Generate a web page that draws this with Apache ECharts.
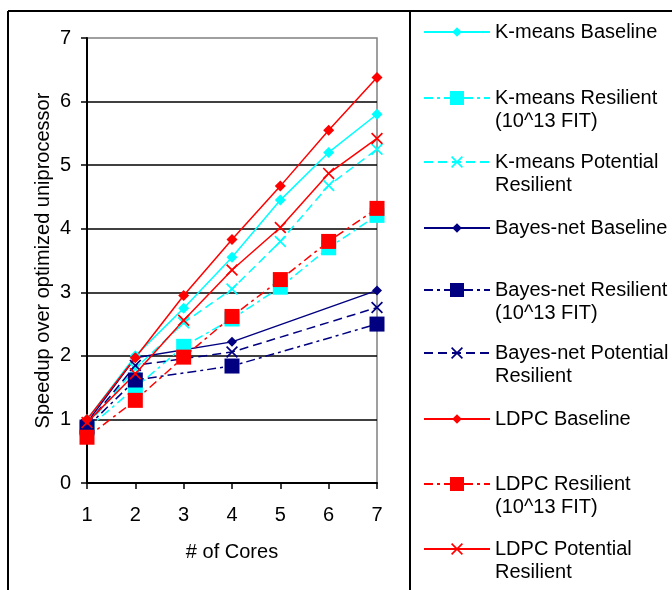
<!DOCTYPE html>
<html>
<head>
<meta charset="utf-8">
<script src="https://cdn.jsdelivr.net/npm/echarts@6/dist/echarts.min.js"></script>
<style>
html,body{margin:0;padding:0;background:#fff;}
#c{width:672px;height:590px;}
</style>
</head>
<body>
<div id="c"></div>
<script>
// ---- data ----
const cores = ['1', '2', '3', '4', '5', '6', '7'];
const yTicks = [0, 1, 2, 3, 4, 5, 6, 7];

const kmBaseline  = [1.00, 2.00, 2.75, 3.55, 4.45, 5.20, 5.80];
const kmResilient = [0.85, 1.50, 2.15, 2.58, 3.08, 3.70, 4.21];
const kmPotential = [0.90, 1.80, 2.52, 3.05, 3.80, 4.68, 5.25];

const bnBaseline  = [0.95, 1.97, null, 2.22, null, null, 3.03];
const bnResilient = [0.88, 1.62, null, 1.84, null, null, 2.50];
const bnPotential = [0.92, 1.85, null, 2.06, null, null, 2.76];

const ldBaseline  = [1.00, 1.97, 2.95, 3.83, 4.67, 5.55, 6.38];
const ldResilient = [0.72, 1.30, 1.98, 2.62, 3.20, 3.80, 4.32];
const ldPotential = [0.95, 1.72, 2.56, 3.35, 4.02, 4.87, 5.42];

const seriesNames = [
  'K-means Baseline', 'K-means Resilient (10^13 FIT)', 'K-means Potential Resilient',
  'Bayes-net Baseline', 'Bayes-net Resilient (10^13 FIT)', 'Bayes-net Potential Resilient',
  'LDPC Baseline', 'LDPC Resilient (10^13 FIT)', 'LDPC Potential Resilient'
];
const legendLabels = [
  'K-means Baseline', 'K-means Resilient\n(10^13 FIT)', 'K-means Potential\nResilient',
  'Bayes-net Baseline', 'Bayes-net Resilient\n(10^13 FIT)', 'Bayes-net Potential\nResilient',
  'LDPC Baseline', 'LDPC Resilient\n(10^13 FIT)', 'LDPC Potential\nResilient'
];
const seriesData = [kmBaseline, kmResilient, kmPotential, bnBaseline, bnResilient, bnPotential, ldBaseline, ldResilient, ldPotential];

// ---- styles ----
const CYAN = '#00FFFF', NAVY = '#000080', RED = '#FF0000';
const FONT = 'Liberation Sans, Arial, sans-serif';
const X_PATH = 'path://M0,1.2L1.2,0L12,10.8L10.8,12ZM10.8,0L12,1.2L1.2,12L0,10.8Z';
const DASH = [9, 5];
const DASHDOT = [9, 4, 3, 4];
const styles = [
  {c: CYAN, sym: 'diamond', size: 11, dash: 'solid', lh: 12},
  {c: CYAN, sym: 'rect', size: 15, dash: DASHDOT, lh: 17.5},
  {c: CYAN, sym: X_PATH, size: 12, dash: DASH, lh: 15},
  {c: NAVY, sym: 'diamond', size: 10, dash: 'solid', lh: 12},
  {c: NAVY, sym: 'rect', size: 15, dash: DASHDOT, lh: 17.5},
  {c: NAVY, sym: X_PATH, size: 12, dash: DASH, lh: 15},
  {c: RED, sym: 'diamond', size: 11, dash: 'solid', lh: 12},
  {c: RED, sym: 'rect', size: 15, dash: DASHDOT, lh: 17.5},
  {c: RED, sym: X_PATH, size: 12, dash: 'solid', lh: 15}
];
const legendCenters = [32, 98, 162, 228, 290, 353, 419, 484, 549];
const LINE_H = 23;

const series = seriesData.map((d, i) => ({
  name: seriesNames[i],
  type: 'line',
  data: d,
  connectNulls: true,
  symbol: styles[i].sym,
  symbolSize: styles[i].size,
  showAllSymbol: true,
  itemStyle: {color: styles[i].c},
  lineStyle: {color: styles[i].c, width: 1.5, type: styles[i].dash},
  emphasis: {disabled: true},
  animation: false
}));

const legends = seriesNames.map((n, i) => {
  const twoLine = legendLabels[i].indexOf('\n') >= 0;
  const ih = styles[i].lh;
  // two-line labels: a leading empty line puts the first text line level with the symbol
  const label = twoLine ? '\n' + legendLabels[i] : legendLabels[i];
  const top = twoLine ? legendCenters[i] - 1.5 * LINE_H : legendCenters[i] - 0.5 * LINE_H;
  return {
    data: [n],
    left: 423,
    top: top,
    padding: 0,
    orient: 'vertical',
    itemWidth: 66,
    itemHeight: ih,
    selectedMode: false,
    formatter: () => label,
    textStyle: {fontFamily: FONT, fontSize: 20, color: '#000', lineHeight: LINE_H}
  };
});

const chart = echarts.init(document.getElementById('c'), null, {renderer: 'canvas'});
chart.setOption({
  animation: false,
  backgroundColor: '#fff',
  grid: {left: 87, right: 295, top: 38, bottom: 107, show: true, borderColor: '#808080', borderWidth: 1.5},
  legend: legends,
  xAxis: {
    type: 'category',
    data: cores,
    boundaryGap: false,
    name: '# of Cores',
    nameLocation: 'middle',
    nameGap: 59,
    nameTextStyle: {fontFamily: FONT, fontSize: 20, color: '#000'},
    axisLine: {lineStyle: {color: '#000', width: 2}},
    axisTick: {show: true, length: 6, lineStyle: {color: '#000', width: 1.5}},
    axisLabel: {fontFamily: FONT, fontSize: 20, color: '#000', margin: 22},
    splitLine: {show: false}
  },
  yAxis: {
    type: 'value',
    min: yTicks[0],
    max: yTicks[yTicks.length - 1],
    interval: 1,
    name: 'Speedup over optimized uniprocessor',
    nameLocation: 'middle',
    nameGap: 34,
    nameTextStyle: {fontFamily: FONT, fontSize: 20, color: '#000'},
    axisLine: {show: true, lineStyle: {color: '#000', width: 2}},
    axisTick: {show: true, length: 6, lineStyle: {color: '#000', width: 1.5}},
    axisLabel: {fontFamily: FONT, fontSize: 20, color: '#000', margin: 16},
    splitLine: {show: true, showMaxLine: false, showMinLine: false, lineStyle: {color: '#000', width: 1.5}}
  },
  graphic: [
    {type: 'line', shape: {x1: 8, y1: 11, x2: 672, y2: 11}, style: {stroke: '#000', lineWidth: 2}, silent: true},
    {type: 'line', shape: {x1: 8, y1: 11, x2: 8, y2: 590}, style: {stroke: '#000', lineWidth: 2}, silent: true},
    {type: 'line', shape: {x1: 410, y1: 11, x2: 410, y2: 590}, style: {stroke: '#000', lineWidth: 2}, silent: true}
  ],
  series: series
});
</script>
</body>
</html>
